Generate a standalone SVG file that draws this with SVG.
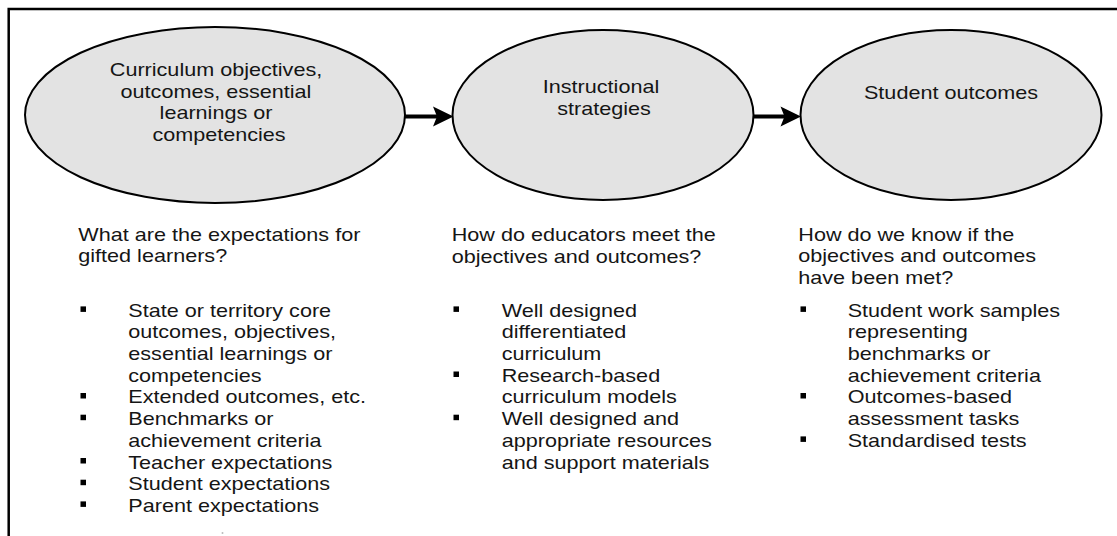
<svg xmlns="http://www.w3.org/2000/svg" width="1117" height="536" viewBox="0 0 1117 536">
  <style>
    .frame { stroke: #000; stroke-width: 2.5; fill: none; }
    .node { fill: #e3e3e3; stroke: #000; stroke-width: 2; }
    .conn { stroke: #000; stroke-width: 4; fill: none; }
    .head { fill: #000; }
    text { font-family: "Liberation Sans", Arial, Helvetica, sans-serif; font-size: 18px; fill: #151515; }
    .mid { text-anchor: middle; }
    .bul { fill: #000; }
  </style>
  <defs>
    <rect id="b" class="bul" x="0" y="0" width="5.5" height="5.5"/>
  </defs>
  <rect width="1117" height="536" fill="#fff"/>
  <g id="frame">
    <path class="frame" d="M8.7,536 V9 H1117"/>
  </g>

  <g id="connectors">
    <line class="conn" x1="405" y1="116.5" x2="440" y2="116.5"/>
    <path class="head" d="M453.5,116.5 L433,106.5 L437,116.5 L433,126.5 Z"/>
    <line class="conn" x1="753" y1="116.5" x2="787" y2="116.5"/>
    <path class="head" d="M801,116.5 L780.5,106.5 L784.5,116.5 L780.5,126.5 Z"/>
  </g>

  <g id="node-curriculum">
    <ellipse class="node" cx="215" cy="115" rx="190" ry="88"/>
    <text class="mid" transform="translate(219,76) scale(1.2,1)">
      <tspan x="0" y="0">Curriculum objectives,</tspan>
      <tspan x="0" y="21.7">outcomes, essential</tspan>
      <tspan x="0" y="43.4">learnings or</tspan>
      <tspan x="0" y="65.1">competencies</tspan>
    </text>
  </g>

  <g id="node-instructional">
    <ellipse class="node" cx="603" cy="115" rx="150.5" ry="85"/>
    <text class="mid" transform="translate(604,93.3) scale(1.2,1)">
      <tspan x="0" y="0">Instructional</tspan>
      <tspan x="0" y="21.7">strategies</tspan>
    </text>
  </g>

  <g id="node-outcomes">
    <ellipse class="node" cx="951" cy="115" rx="150.5" ry="85"/>
    <text class="mid" transform="translate(951,99.3) scale(1.2,1)">Student outcomes</text>
  </g>

  <g id="col-expectations">
    <text transform="translate(78.3,240.7) scale(1.2,1)">
      <tspan x="0" y="0">What are the expectations for</tspan>
      <tspan x="0" y="21.7">gifted learners?</tspan>
    </text>
    <text transform="translate(128.3,316.7) scale(1.2,1)">
      <tspan x="0" y="0">State or territory core</tspan>
      <tspan x="0" y="21.7">outcomes, objectives,</tspan>
      <tspan x="0" y="43.4">essential learnings or</tspan>
      <tspan x="0" y="65.1">competencies</tspan>
      <tspan x="0" y="86.8">Extended outcomes, etc.</tspan>
      <tspan x="0" y="108.5">Benchmarks or</tspan>
      <tspan x="0" y="130.2">achievement criteria</tspan>
      <tspan x="0" y="151.9">Teacher expectations</tspan>
      <tspan x="0" y="173.6">Student expectations</tspan>
      <tspan x="0" y="195.3">Parent expectations</tspan>
    </text>
    <use href="#b" x="80.5" y="306.4"/>
    <use href="#b" x="80.5" y="393"/>
    <use href="#b" x="80.5" y="414.7"/>
    <use href="#b" x="80.5" y="458"/>
    <use href="#b" x="80.5" y="479.7"/>
    <use href="#b" x="80.5" y="501.4"/>
  </g>

  <g id="col-strategies">
    <text transform="translate(451.7,241) scale(1.2,1)">
      <tspan x="0" y="0">How do educators meet the</tspan>
      <tspan x="0" y="21.7">objectives and outcomes?</tspan>
    </text>
    <text transform="translate(501.7,316.7) scale(1.2,1)">
      <tspan x="0" y="0">Well designed</tspan>
      <tspan x="0" y="21.7">differentiated</tspan>
      <tspan x="0" y="43.4">curriculum</tspan>
      <tspan x="0" y="65.1">Research-based</tspan>
      <tspan x="0" y="86.8">curriculum models</tspan>
      <tspan x="0" y="108.5">Well designed and</tspan>
      <tspan x="0" y="130.2">appropriate resources</tspan>
      <tspan x="0" y="151.9">and support materials</tspan>
    </text>
    <use href="#b" x="453.5" y="306.4"/>
    <use href="#b" x="453.5" y="371.5"/>
    <use href="#b" x="453.5" y="414.7"/>
  </g>

  <g id="col-measures">
    <text transform="translate(798.3,240.7) scale(1.2,1)">
      <tspan x="0" y="0">How do we know if the</tspan>
      <tspan x="0" y="21.7">objectives and outcomes</tspan>
      <tspan x="0" y="43.4">have been met?</tspan>
    </text>
    <text transform="translate(847.7,316.7) scale(1.2,1)">
      <tspan x="0" y="0">Student work samples</tspan>
      <tspan x="0" y="21.7">representing</tspan>
      <tspan x="0" y="43.4">benchmarks or</tspan>
      <tspan x="0" y="65.1">achievement criteria</tspan>
      <tspan x="0" y="86.8">Outcomes-based</tspan>
      <tspan x="0" y="108.5">assessment tasks</tspan>
      <tspan x="0" y="130.2">Standardised tests</tspan>
    </text>
    <use href="#b" x="800.5" y="306.4"/>
    <use href="#b" x="800.5" y="393"/>
    <use href="#b" x="800.5" y="436.4"/>
  </g>

  <circle cx="222.5" cy="533" r="1" fill="#bbb"/>
</svg>
